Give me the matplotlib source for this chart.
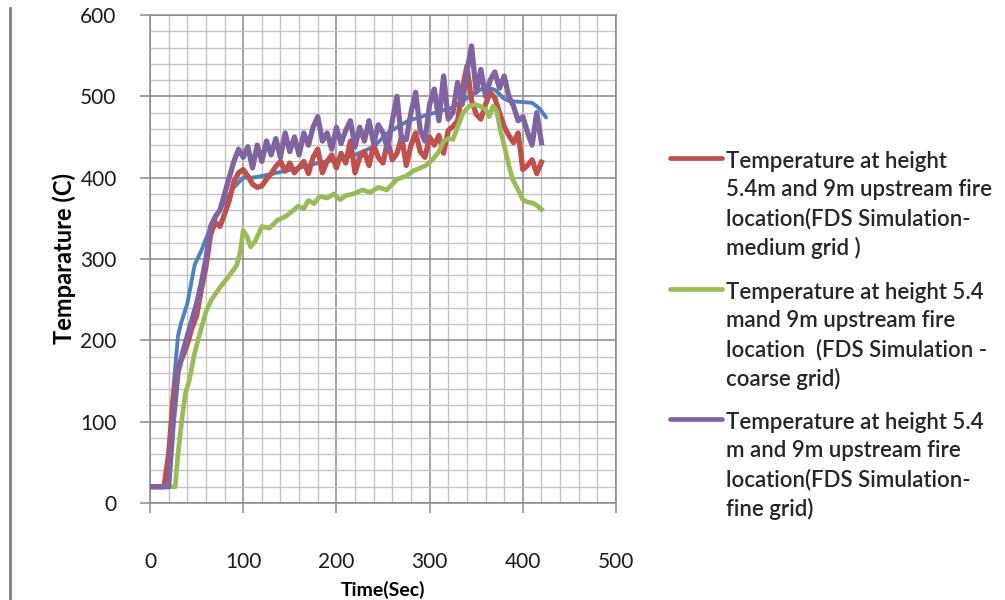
import matplotlib
matplotlib.use("Agg")
import matplotlib.pyplot as plt
from matplotlib.lines import Line2D
from matplotlib.ticker import MultipleLocator

# ---- data -------------------------------------------------------------
t_medium = [0, 5, 10, 15, 20, 25, 30, 35, 40, 45, 50, 55, 60, 65, 70, 75, 80,
            85, 90, 95, 100, 105, 110, 115, 120, 125, 130, 135, 140, 145, 150,
            155, 160, 165, 170, 175, 180, 185, 190, 195, 200, 205, 210, 215,
            220, 225, 230, 235, 240, 245, 250, 255, 260, 265, 270, 275, 280,
            285, 290, 295, 300, 305, 310, 315, 320, 325, 330, 335, 340, 345,
            350, 355, 360, 365, 370, 375, 380, 385, 390, 395, 400, 405, 410,
            415, 420]
temp_medium = [20, 20, 20, 20, 60, 130, 165, 180, 195, 215, 230, 262, 290, 330,
               345, 340, 355, 372, 395, 406, 410, 402, 392, 388, 390, 398, 405,
               414, 420, 408, 418, 406, 413, 420, 405, 425, 435, 406, 420, 428,
               412, 430, 418, 445, 406, 425, 432, 415, 440, 425, 418, 445, 422,
               430, 450, 415, 440, 455, 432, 425, 450, 440, 452, 430, 458, 463,
               470, 508, 537, 495, 478, 472, 490, 505, 498, 480, 463, 452, 443,
               455, 410, 415, 422, 405, 419]

t_fine = t_medium
temp_fine = [20, 20, 20, 20, 20, 100, 160, 185, 205, 225, 245, 270, 300, 340,
             352, 360, 380, 400, 420, 435, 425, 438, 412, 440, 420, 445, 428,
             448, 425, 455, 432, 450, 428, 455, 440, 462, 475, 445, 455, 435,
             462, 442, 458, 470, 438, 462, 445, 470, 442, 465, 455, 435, 470,
             500, 446, 447, 480, 505, 458, 445, 490, 509, 470, 525, 472, 480,
             517, 490, 530, 562, 505, 533, 500, 520, 530, 510, 525, 500, 488,
             470, 475, 456, 440, 480, 443]

t_coarse = [0, 10, 20, 27, 30, 35, 38, 42, 48, 55, 60, 66, 75, 84, 93, 97,
            100, 104, 108, 113, 120, 128, 137, 145, 152, 159, 165, 170, 176,
            182, 190, 197, 204, 210, 218, 228, 236, 245, 254, 260, 265, 270,
            275, 282, 290, 296, 303, 310, 315, 320, 325, 330, 336, 343, 349,
            354, 360, 364, 368, 372, 376, 380, 385, 389, 395, 400, 405, 410,
            415, 420]
temp_coarse = [20, 20, 20, 20, 60, 110, 135, 150, 185, 215, 235, 250, 265, 278,
               292, 310, 335, 328, 315, 322, 340, 338, 348, 352, 358, 365, 362,
               372, 368, 377, 375, 380, 373, 378, 380, 385, 382, 388, 385, 392,
               398, 400, 402, 408, 412, 415, 422, 432, 445, 448, 447, 462, 480,
               488, 490, 488, 484, 475, 488, 482, 458, 440, 415, 398, 385, 373,
               370, 369, 366, 361]

t_ref = [0, 10, 15, 20, 25, 30, 33, 40, 48, 55, 60, 70, 80, 90, 100, 110, 120,
         132, 160, 180, 200, 220, 240, 255, 277, 300, 324, 350, 360, 370, 380,
         386, 400, 410, 418, 425]
temp_ref = [20, 20, 22, 50, 140, 205, 220, 245, 293, 310, 325, 350, 370, 388,
            400, 400, 402, 405, 412, 418, 422, 428, 438, 455, 470, 478, 486,
            505, 512, 508, 497, 494, 493, 492, 485, 474]

labels = [
    "Temperature at height\n5.4m and 9m upstream fire\nlocation(FDS Simulation-\nmedium grid )",
    "Temperature at height 5.4\nmand 9m upstream fire\nlocation  (FDS Simulation -\ncoarse grid)",
    "Temperature at height 5.4\nm and 9m upstream fire\nlocation(FDS Simulation-\nfine grid)",
]
x_ticks = [0, 100, 200, 300, 400, 500]
y_ticks = [0, 100, 200, 300, 400, 500, 600]

BLUE, RED, GREEN, PURPLE = "#4F81BD", "#C0504D", "#9BBB59", "#8064A2"

# ---- figure -----------------------------------------------------------
plt.rcParams["font.family"] = ["Lato", "DejaVu Sans"]
fig = plt.figure(figsize=(10.05, 6.0), dpi=100)
ax = fig.add_axes([150 / 1005, 97 / 600, 466 / 1005, 488 / 600])

ax.plot(t_ref, temp_ref, color=BLUE, lw=2.8, solid_capstyle="round", zorder=3)
ax.plot(t_medium, temp_medium, color=RED, lw=3.8, solid_joinstyle="round", zorder=4)
ax.plot(t_coarse, temp_coarse, color=GREEN, lw=3.4, solid_joinstyle="round", zorder=5)
ax.plot(t_fine, temp_fine, color=PURPLE, lw=3.8, solid_joinstyle="round", zorder=6)

ax.set_xlim(0, 500)
ax.set_ylim(0, 600)
ax.set_xticks(x_ticks)
ax.set_yticks(y_ticks)
ax.xaxis.set_minor_locator(MultipleLocator(20))
ax.yaxis.set_minor_locator(MultipleLocator(20))
ax.grid(which="major", color="#8a8a8a", lw=1.1)
ax.grid(which="minor", color="#c4c4c4", lw=1.0)
ax.set_axisbelow(True)
for s in ax.spines.values():
    s.set_color("#8a8a8a")
    s.set_linewidth(1.1)
ax.tick_params(which="major", direction="out", length=7, width=1.1,
               color="#8a8a8a", labelsize=15, labelcolor="#1a1a1a")
ax.tick_params(axis="x", which="major", pad=28)
ax.tick_params(axis="y", which="major", pad=17)
ax.tick_params(which="minor", length=0)

ax.set_xlabel("Time(Sec)", fontsize=14, fontweight="bold", labelpad=7)
ax.set_ylabel("Temparature (C)", fontsize=17, fontweight="bold", labelpad=3)

# ---- legend drawn beside the axes --------------------------------------
W, H = 1005, 600
entries = [(RED, 158), (GREEN, 289), (PURPLE, 419)]
for (col, ypix), lab in zip(entries, labels):
    yf = 1 - ypix / H
    fig.add_artist(Line2D([670 / W, 722 / W], [yf, yf], color=col, lw=3.4,
                          solid_capstyle="round"))
    fig.text(726 / W, 1 - (ypix - 7) / H, lab, fontsize=16, fontweight="semibold",
             va="top", ha="left", color="#262626", linespacing=1.42)

# thin border on the far left
fig.add_artist(Line2D([10 / W, 10 / W], [0, 1 - 8 / H], color="#7f7f7f", lw=2))

fig.savefig("out.png", dpi=100)
